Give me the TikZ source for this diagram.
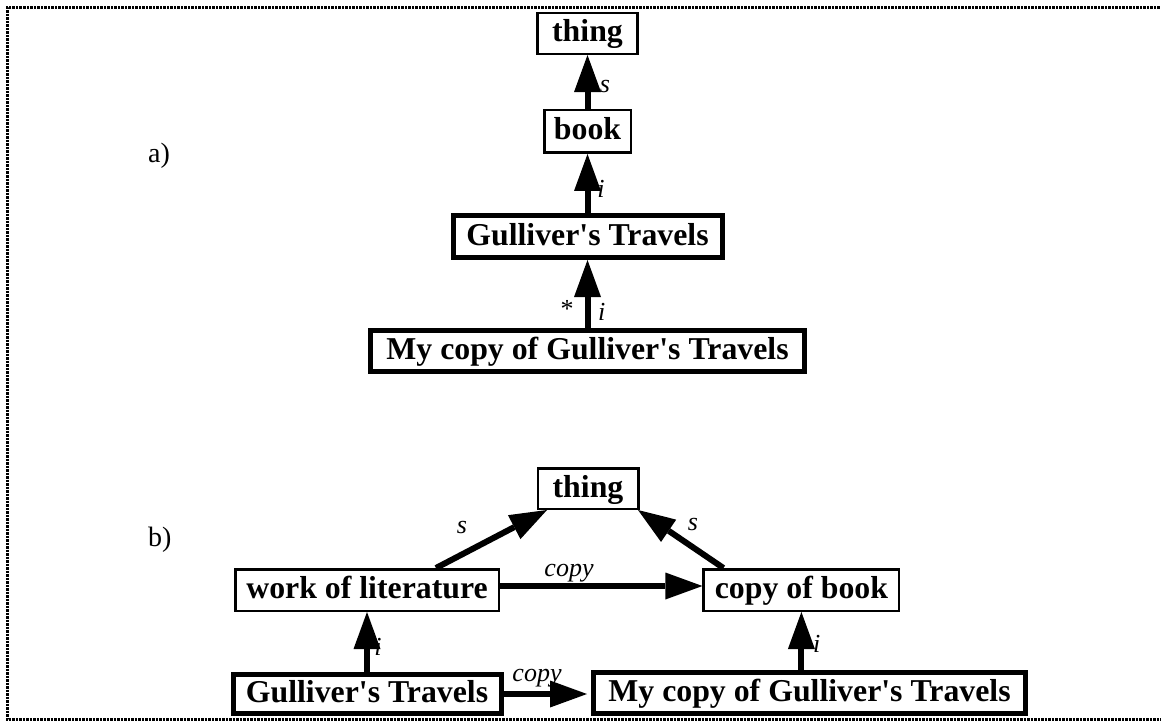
\documentclass[tikz,border=0pt]{standalone}
\usepackage{fontspec}
\setmainfont{Liberation Serif}[Ligatures=TeXOff]
\usetikzlibrary{arrows.meta}
\begin{document}
\begin{tikzpicture}[x=1pt,y=-1pt,
  box/.style={draw, line width=2.5pt, inner sep=0pt, text height=22pt, text depth=5pt,
    font=\bfseries\fontsize{31.8}{36}\selectfont},
  thickbox/.style={box, line width=5pt},
  link/.style={line width=6pt, -{Triangle[length=37pt,width=27pt,line width=0pt]}},
  lbl/.style={font=\itshape\fontsize{26}{30}\selectfont, inner sep=0pt, anchor=base},
  partlbl/.style={font=\fontsize{28}{32}\selectfont, inner sep=0pt, anchor=base west},
  frame/.style={line width=3pt, dash pattern=on 2.5pt off 1pt}]
\useasboundingbox (0,0) rectangle (1161,722);

% dotted frame, open to the right
\coordinate (ftr) at (1170,8);
\coordinate (ftl) at (7,8);
\coordinate (fbl) at (7,719.5);
\coordinate (fbr) at (1170,719.5);
\draw[frame] (ftr) -- (ftl) -- (fbl) -- (fbr);

% part a)
\node[partlbl] (labA) at (148,163) {a)};
\node[box, minimum width=100pt, minimum height=41pt] (thingA) at (587.5,33.3) {thing};
\node[box, minimum width=86.5pt, minimum height=42.5pt] (book) at (587.5,131.5) {book};
\node[thickbox, minimum width=269pt, minimum height=42pt] (gullA) at (587.5,236.5) {Gulliver's Travels};
\node[thickbox, minimum width=434pt, minimum height=41pt] (mycopyA) at (587.5,351) {My copy of Gulliver's Travels};

\draw[link] (book.north) -- (thingA.south);
\draw[link] (gullA.north) -- (book.south);
\draw[link] (mycopyA.north) -- (gullA.south);

\node[lbl] (sA) at (605,93) {s};
\node[lbl] (iA) at (601,197) {i};
\node[lbl, font=\fontsize{26}{30}\selectfont] (star) at (567,317) {*};
\node[lbl] (iA2) at (601.7,320) {i};

% part b)
\node[partlbl] (labB) at (148,546) {b)};
\node[box, minimum width=100.5pt, minimum height=40.5pt] (thingB) at (588,488.5) {thing};
\node[box, minimum width=263.5pt, minimum height=41.5pt] (work) at (367,590) {work of literature};
\node[box, minimum width=195.5pt, minimum height=41.5pt] (copybook) at (801.4,590) {copy of book};
\node[thickbox, minimum width=268pt, minimum height=39pt] (gullB) at (367,694) {Gulliver's Travels};
\node[thickbox, minimum width=432pt, minimum height=41pt] (mycopyB) at (809.5,693) {My copy of Gulliver's Travels};

\draw[link] ([xshift=69pt]work.north) -- ([xshift=-41pt]thingB.south);
\draw[link] ([xshift=-78pt]copybook.north) -- ([xshift=50pt]thingB.south);
\draw[link] ([yshift=4pt]work.east) -- ([yshift=4pt]copybook.west);
\draw[link] (gullB.north) -- (work.south);
\draw[link] (mycopyB.north -| copybook.south) -- (copybook.south);
\draw[link, shorten >=4pt] (gullB.east) -- (gullB.east -| mycopyB.west);

\node[lbl] (sB1) at (462,533) {s};
\node[lbl] (copyB1) at (569,576) {copy};
\node[lbl] (sB2) at (692.8,530) {s};
\node[lbl] (iB1) at (378,655) {i};
\node[lbl] (iB2) at (816.6,652) {i};
\node[lbl] (copyB2) at (537,681) {copy};
\end{tikzpicture}
\end{document}
